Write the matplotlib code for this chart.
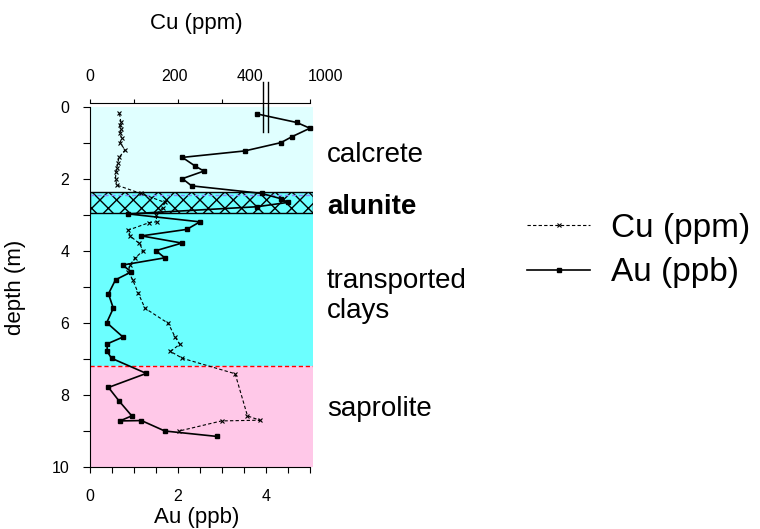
import numpy as np
import matplotlib
matplotlib.use("Agg")
import matplotlib.pyplot as plt
from matplotlib.lines import Line2D
import matplotlib.transforms as mtransforms

plt.rcParams['font.family'] = ['Liberation Sans', 'DejaVu Sans']

# Au profile (depth m, Au ppb)
au_depth = [0.19, 0.43, 0.59, 0.82, 0.99, 1.22, 1.40, 1.64, 1.78, 1.99,
            2.19, 2.40, 2.55, 2.65, 2.77, 2.97, 3.19, 3.40, 3.58, 3.78,
            3.99, 4.19, 4.39, 4.58, 4.80, 5.19, 5.59, 5.99, 6.39, 6.58,
            6.79, 6.98, 7.40, 7.79, 8.18, 8.58, 8.72, 8.71, 9.00, 9.15]
au_ppb = [3.79, 4.70, 5.00, 4.60, 4.34, 3.52, 2.10, 2.39, 2.59, 2.10,
          2.31, 3.90, 4.35, 4.50, 3.80, 0.87, 2.50, 2.20, 1.17, 2.09,
          1.50, 1.70, 0.74, 0.94, 0.58, 0.42, 0.53, 0.38, 0.75, 0.39,
          0.39, 0.49, 1.28, 0.42, 0.67, 0.95, 0.68, 1.17, 1.70, 2.88]

# Cu profile (depth m, Cu ppm)
cu_depth = [0.18, 0.41, 0.50, 0.62, 0.73, 0.87, 1.00, 1.19, 1.40, 1.56,
            1.70, 1.80, 1.99, 2.17, 2.40, 2.65, 2.80, 3.00, 3.19, 3.21,
            3.42, 3.58, 3.79, 3.99, 4.20, 4.39, 4.57, 4.80, 5.18, 5.59,
            6.01, 6.38, 6.59, 6.79, 6.98, 7.41, 8.58, 8.70, 8.72, 9.00]
cu_ppm = [67, 70, 68, 70, 68, 72, 68, 80, 66, 63,
          61, 59, 58, 61, 115, 170, 165, 150, 152, 135,
          87, 91, 112, 121, 102, 91, 87, 97, 110, 125,
          178, 193, 204, 183, 210, 330, 358, 386, 299, 203]

# regolith zones (top, bottom, name)
zone_tops = [0.0, 2.37, 2.95, 7.2]
zone_bottoms = [2.37, 2.95, 7.2, 10.0]
zone_names = ['calcrete', 'alunite', 'transported\nclays', 'saprolite']
zone_label_y = [1.33, 2.78, 5.25, 8.4]

cu_tick_labels = ['0', '200', '400', '1000']
cu_tick_pos = [0, 1.91, 3.64, 5.35]

fig = plt.figure(figsize=(7.6, 5.29), dpi=100)
ax = fig.add_axes([90/760, 62/529, 223/760, 360/529])

colors = ['#e0ffff', '#6cffff', '#6cffff', '#ffc8e8']
for i in range(4):
    if zone_names[i] == 'alunite':
        ax.axhspan(zone_tops[i], zone_bottoms[i], facecolor=colors[i],
                   edgecolor='black', hatch='xx', lw=1.0, zorder=1)
    else:
        ax.axhspan(zone_tops[i], zone_bottoms[i], facecolor=colors[i],
                   edgecolor='none', zorder=0)
ax.axhline(7.2, color='red', ls=(0, (3, 2)), lw=1.0, zorder=2)
ax.axhline(2.45, color='#8888ff', ls=(0, (3, 2)), lw=1.0, zorder=2)

# Cu drawn on broken scale: 0-400 ppm -> 0-4
cu_x = np.array(cu_ppm) / 100.0
ax.plot(cu_x, cu_depth, color='black', lw=0.8, ls=(0, (3, 2)),
        marker='x', ms=3.5, mew=0.8, zorder=3, clip_on=False)
ax.plot(au_ppb, au_depth, color='black', lw=1.2, marker='s', ms=3.0,
        zorder=4, clip_on=False)

ax.set_xlim(0, 5.07)
ax.set_ylim(10, 0)
for s in ['top', 'right']:
    ax.spines[s].set_visible(False)
ax.spines['bottom'].set_bounds(0, 5)
ax.set_yticks(np.arange(0, 11, 1))
ax.set_yticklabels([str(v) if v % 2 == 0 else '' for v in range(11)])
ax.set_xticks(np.arange(0, 5.01, 0.5))
ax.set_xticklabels(['0', '', '', '', '2', '', '', '', '4', '', ''])
ax.tick_params(axis='y', direction='out', length=5, pad=10, labelsize=11.5)
ax.tick_params(axis='x', direction='out', length=4, pad=12, labelsize=11.5)

# top Cu axis
axt = ax.twiny()
axt.set_xlim(ax.get_xlim())
for s in ['bottom', 'left', 'right']:
    axt.spines[s].set_visible(False)
axt.spines['top'].set_position(('outward', 3))
axt.spines['top'].set_bounds(0, 5)
axt.set_xticks([0, 1, 2, 3, 5])
axt.set_xticklabels([])
axt.tick_params(axis='x', direction='out', length=3)
trans = mtransforms.blended_transform_factory(ax.transData, ax.transAxes)
for lab, p in zip(cu_tick_labels, cu_tick_pos):
    ax.text(p, 1.085, lab, transform=trans, ha='center', va='center',
            fontsize=11.5, clip_on=False)
for bx in [3.93, 4.04]:
    ax.plot([bx, bx], [0.931, 1.069], transform=trans, color='black',
            lw=1.0, clip_on=False, zorder=6)

for name, yl in zip(zone_names, zone_label_y):
    ax.text(1.063, yl, name, transform=mtransforms.blended_transform_factory(
        ax.transAxes, ax.transData), ha='left', va='center', fontsize=20,
        fontweight='bold' if name == 'alunite' else 'normal',
        linespacing=1.2)

fig.text(16/760, 1 - 287/529, 'depth (m)', rotation=90, ha='center',
         va='center', fontsize=16)
fig.text(197/760, 1 - 517/529, 'Au (ppb)', ha='center', va='center',
         fontsize=16)
fig.text(196/760, 1 - 23/529, 'Cu (ppm)', ha='center', va='center',
         fontsize=16)

handles = [Line2D([], [], color='black', lw=0.8, ls=(0, (3, 2)), marker='x',
                  ms=3.5, mew=0.8),
           Line2D([], [], color='black', lw=1.2, marker='s', ms=3.0)]
ax.legend(handles, ['Cu (ppm)', 'Au (ppb)'], loc='upper left',
          bbox_to_anchor=(527/760, 1 - 213/529), bbox_transform=fig.transFigure,
          frameon=False, fontsize=24, handlelength=1.9, handletextpad=0.62,
          labelspacing=0.4, borderpad=0, borderaxespad=0)

fig.savefig('out.png', dpi=100)
